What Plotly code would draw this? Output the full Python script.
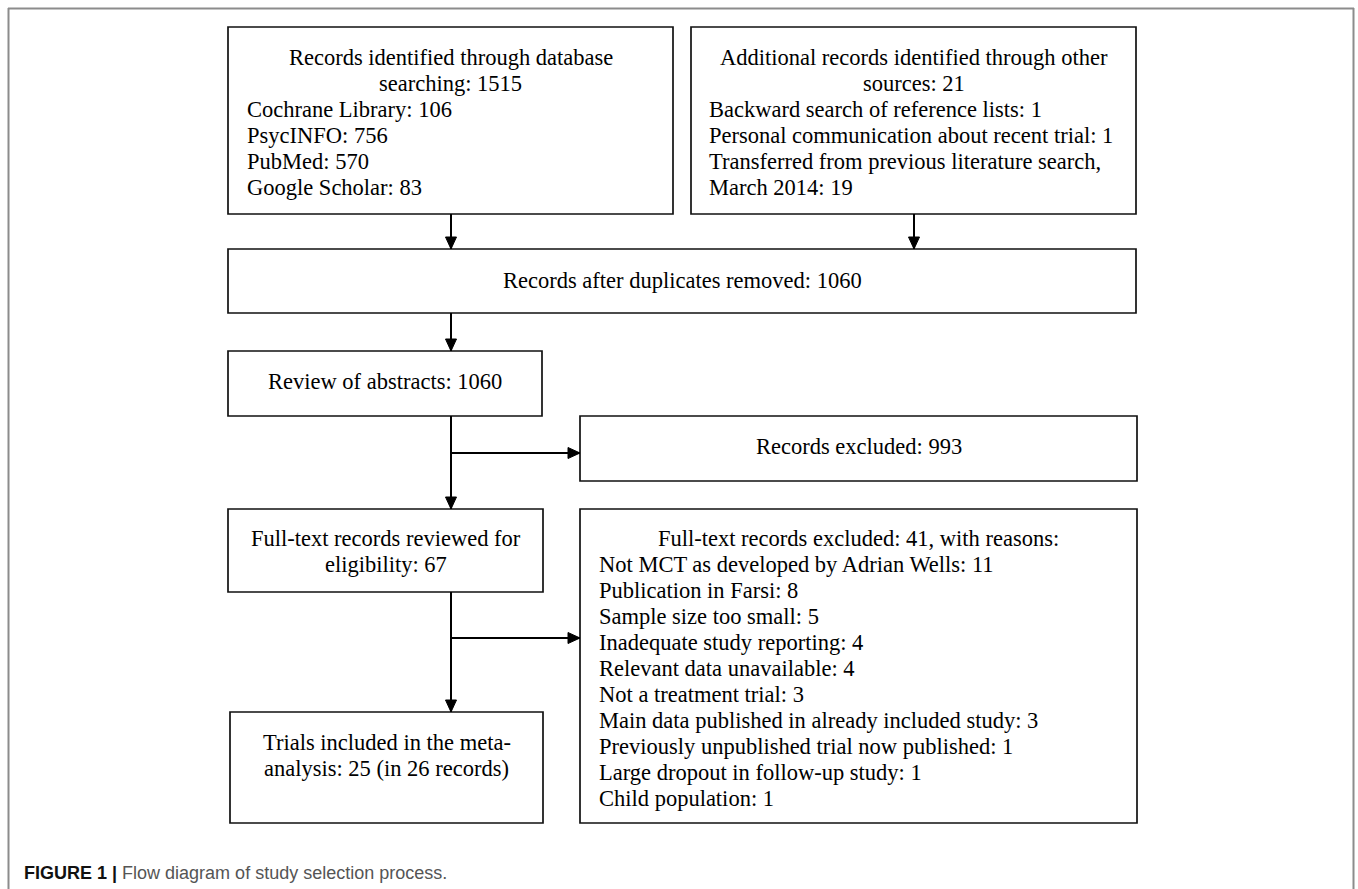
import plotly.graph_objects as go

# ---- content (texts and counts) ----
db_header = ["Records identified through database", "searching: 1515"]
db_sources = ["Cochrane Library: 106", "PsycINFO: 756", "PubMed: 570", "Google Scholar: 83"]
other_header = ["Additional records identified through other", "sources: 21"]
other_sources = ["Backward search of reference lists: 1",
                 "Personal communication about recent trial: 1",
                 "Transferred from previous literature search,",
                 "March 2014: 19"]
dedup_lines = ["Records after duplicates removed: 1060"]
abstract_lines = ["Review of abstracts: 1060"]
excluded_lines = ["Records excluded: 993"]
fulltext_lines = ["Full-text records reviewed for", "eligibility: 67"]
fulltext_excl_header = ["Full-text records excluded: 41, with reasons:"]
fulltext_excl_reasons = ["Not MCT as developed by Adrian Wells: 11",
                         "Publication in Farsi: 8",
                         "Sample size too small: 5",
                         "Inadequate study reporting: 4",
                         "Relevant data unavailable: 4",
                         "Not a treatment trial: 3",
                         "Main data published in already included study: 3",
                         "Previously unpublished trial now published: 1",
                         "Large dropout in follow-up study: 1",
                         "Child population: 1"]
included_lines = ["Trials included in the meta-", "analysis: 25 (in 26 records)"]
caption_bold = "FIGURE 1 |"
caption_text = "Flow diagram of study selection process."

# ---- geometry (page-pixel coordinate system of the axes) ----
W, H = 1358, 889
boxes = {
    "db": (228, 673, 27, 214),
    "other": (691, 1136, 27, 214),
    "dedup": (228, 1136, 249, 313),
    "abstract": (228, 542, 351, 416),
    "excluded": (580, 1137, 416, 481),
    "fulltext": (228, 543, 509, 592),
    "ftexcl": (580, 1137, 509, 823),
    "included": (230, 543, 712, 823),
}
trunk_x = 451
other_x = 914
branch_y = [453, 638]
LINE_H = 26
FONT = "Liberation Serif, Times New Roman, serif"
FS = 22.5

fig = go.Figure()
shapes = []
annotations = []

# outer frame (top, left, right)
frame_col = "#8c8c8c"
for (x0, y0, x1, y1) in [(8, 8.5, 1354, 8.5), (8.5, 8, 8.5, H + 5), (1353.5, 8, 1353.5, H + 5)]:
    shapes.append(dict(type="line", x0=x0, y0=y0, x1=x1, y1=y1, xref="x", yref="y",
                       line=dict(color=frame_col, width=2)))

for name, (x0, x1, y0, y1) in boxes.items():
    shapes.append(dict(type="rect", x0=x0, x1=x1, y0=y0, y1=y1, xref="x", yref="y",
                       line=dict(color="#111111", width=1.7), fillcolor="rgba(0,0,0,0)"))


def arrow(xa, ya, xb, yb):
    shapes.append(dict(type="line", x0=xa, y0=ya, x1=xb, y1=yb, xref="x", yref="y",
                       line=dict(color="#000000", width=2)))
    L, Wd = 12, 5.5
    if xa == xb:  # vertical (downwards)
        path = f"M {xb-Wd},{yb-L} L {xb+Wd},{yb-L} L {xb},{yb} Z"
    else:  # horizontal (rightwards)
        path = f"M {xb-L},{yb-Wd} L {xb-L},{yb+Wd} L {xb},{yb} Z"
    shapes.append(dict(type="path", path=path, xref="x", yref="y",
                       fillcolor="#000000", line=dict(color="#000000", width=1)))


b = boxes
arrow(trunk_x, b["db"][3], trunk_x, b["dedup"][2])
arrow(other_x, b["other"][3], other_x, b["dedup"][2])
arrow(trunk_x, b["dedup"][3], trunk_x, b["abstract"][2])
arrow(trunk_x, b["abstract"][3], trunk_x, b["fulltext"][2])
arrow(trunk_x, branch_y[0], b["excluded"][0], branch_y[0])
arrow(trunk_x, b["fulltext"][3], trunk_x, b["included"][2])
arrow(trunk_x, branch_y[1], b["ftexcl"][0], branch_y[1])


def text_lines(lines, x, y_start, anchor):
    for i, t in enumerate(lines):
        annotations.append(dict(x=x, y=y_start + i * LINE_H, xref="x", yref="y",
                                text=t, showarrow=False, xanchor=anchor, yanchor="middle",
                                font=dict(family=FONT, size=FS, color="#000000")))


def cx(name):
    return (boxes[name][0] + boxes[name][1]) / 2


text_lines(db_header, cx("db"), 57, "center")
text_lines(db_sources, 245, 57 + 2 * LINE_H, "left")
text_lines(other_header, cx("other"), 57, "center")
text_lines(other_sources, 707, 57 + 2 * LINE_H, "left")
text_lines(dedup_lines, cx("dedup"), 280, "center")
text_lines(abstract_lines, cx("abstract"), 381, "center")
text_lines(excluded_lines, cx("excluded"), 446, "center")
text_lines(fulltext_lines, cx("fulltext"), 538, "center")
text_lines(fulltext_excl_header, cx("ftexcl"), 538, "center")
text_lines(fulltext_excl_reasons, 597, 538 + LINE_H, "left")
text_lines(included_lines, cx("included"), 742, "center")

annotations.append(dict(x=22, y=873, xref="x", yref="y", showarrow=False,
                        xanchor="left", yanchor="middle",
                        text=f"<b>{caption_bold}</b> <span style='color:#555555'>{caption_text}</span>",
                        font=dict(family="Liberation Sans, Arial, sans-serif", size=18, color="#111111")))

fig.update_layout(
    width=W, height=H,
    margin=dict(l=0, r=0, t=0, b=0),
    paper_bgcolor="white", plot_bgcolor="white",
    xaxis=dict(range=[0, W], visible=False, fixedrange=True),
    yaxis=dict(range=[H, 0], visible=False, fixedrange=True),
    shapes=shapes, annotations=annotations, showlegend=False,
)

fig.write_html("out.html",
               config={"displayModeBar": False, "staticPlot": True},
               post_script="document.body.style.margin='0';document.body.style.overflow='hidden';")
